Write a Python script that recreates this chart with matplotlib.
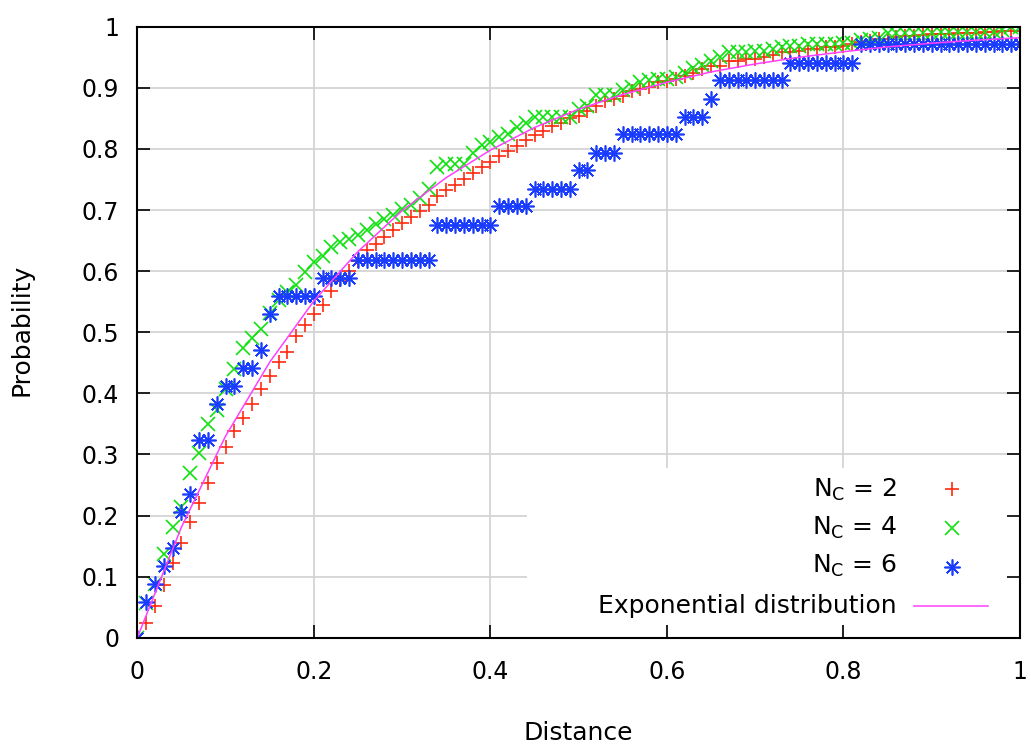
# CDF of distance for several N_C values vs exponential distribution (gnuplot style)
import numpy as np
import matplotlib.pyplot as plt
from matplotlib.patches import Rectangle

# x positions of the empirical CDFs (step 0.01)
distance = np.round(np.arange(101) * 0.01, 2)

# N_C = 2
prob_nc2 = [
    0.000, 0.024, 0.052, 0.086, 0.122, 0.155, 0.190, 0.220, 0.254, 0.286,
    0.312, 0.339, 0.360, 0.383, 0.407, 0.429, 0.451, 0.468, 0.493, 0.512,
    0.529, 0.545, 0.567, 0.586, 0.600, 0.616, 0.634, 0.644, 0.656, 0.667,
    0.679, 0.688, 0.699, 0.709, 0.723, 0.733, 0.741, 0.751, 0.760, 0.771,
    0.779, 0.789, 0.796, 0.805, 0.815, 0.823, 0.830, 0.838, 0.843, 0.851,
    0.854, 0.862, 0.870, 0.879, 0.881, 0.887, 0.895, 0.898, 0.901, 0.909,
    0.911, 0.914, 0.920, 0.924, 0.931, 0.936, 0.936, 0.944, 0.944, 0.947,
    0.947, 0.950, 0.953, 0.958, 0.958, 0.961, 0.963, 0.963, 0.966, 0.966,
    0.969, 0.972, 0.975, 0.977, 0.980, 0.980, 0.983, 0.985, 0.985, 0.986,
    0.988, 0.988, 0.988, 0.990, 0.990, 0.990, 0.991, 0.991, 0.993, 0.993,
    0.993,
]

# N_C = 4
prob_nc4 = [
    0.000, 0.057, 0.088, 0.137, 0.181, 0.214, 0.270, 0.302, 0.349, 0.372,
    0.407, 0.439, 0.474, 0.490, 0.506, 0.532, 0.553, 0.565, 0.577, 0.598,
    0.615, 0.624, 0.640, 0.648, 0.652, 0.659, 0.667, 0.677, 0.686, 0.692,
    0.702, 0.708, 0.720, 0.735, 0.770, 0.776, 0.776, 0.776, 0.793, 0.806,
    0.812, 0.820, 0.825, 0.836, 0.842, 0.853, 0.853, 0.853, 0.853, 0.853,
    0.866, 0.871, 0.888, 0.888, 0.888, 0.896, 0.902, 0.910, 0.913, 0.915,
    0.915, 0.918, 0.924, 0.932, 0.938, 0.944, 0.950, 0.958, 0.958, 0.958,
    0.961, 0.961, 0.963, 0.966, 0.969, 0.969, 0.972, 0.972, 0.972, 0.972,
    0.974, 0.974, 0.978, 0.980, 0.982, 0.990, 0.990, 0.990, 0.990, 0.990,
    0.990, 0.991, 0.991, 0.991, 0.991, 0.992, 0.992, 0.992, 0.995, 1.000,
    1.000,
]

# N_C = 6 (step-like, 34 samples)
prob_nc6 = [
    0.000, 0.059, 0.088, 0.118, 0.147, 0.206, 0.235, 0.324, 0.324, 0.382,
    0.412, 0.412, 0.441, 0.441, 0.471, 0.529, 0.559, 0.559, 0.559, 0.559,
    0.559, 0.588, 0.588, 0.588, 0.588, 0.618, 0.618, 0.618, 0.618, 0.618,
    0.618, 0.618, 0.618, 0.618, 0.676, 0.676, 0.676, 0.676, 0.676, 0.676,
    0.676, 0.706, 0.706, 0.706, 0.706, 0.735, 0.735, 0.735, 0.735, 0.735,
    0.765, 0.765, 0.794, 0.794, 0.794, 0.824, 0.824, 0.824, 0.824, 0.824,
    0.824, 0.824, 0.853, 0.853, 0.853, 0.882, 0.912, 0.912, 0.912, 0.912,
    0.912, 0.912, 0.912, 0.912, 0.941, 0.941, 0.941, 0.941, 0.941, 0.941,
    0.941, 0.941, 0.971, 0.971, 0.971, 0.971, 0.971, 0.971, 0.971, 0.971,
    0.971, 0.971, 0.971, 0.971, 0.971, 0.971, 0.971, 0.971, 0.971, 0.971,
    0.971,
]

# exponential distribution curve (read at step 0.05)
exp_x = [0.00, 0.05, 0.10, 0.15, 0.20, 0.25, 0.30, 0.35, 0.40, 0.45, 0.50,
         0.55, 0.60, 0.65, 0.70, 0.75, 0.80, 0.85, 0.90, 0.95, 1.00]
exp_y = [0.000, 0.181, 0.330, 0.451, 0.551, 0.632, 0.699, 0.753, 0.798, 0.835, 0.865,
         0.889, 0.909, 0.926, 0.939, 0.950, 0.959, 0.967, 0.973, 0.978, 0.982]

legend_labels = [r"N$_\mathrm{C}$ = 2", r"N$_\mathrm{C}$ = 4", r"N$_\mathrm{C}$ = 6",
                 "Exponential distribution"]

x_ticks = [0, 0.2, 0.4, 0.6, 0.8, 1]
y_ticks = [0, 0.1, 0.2, 0.3, 0.4, 0.5, 0.6, 0.7, 0.8, 0.9, 1]

RED, GREEN, BLUE, MAGENTA = "#ff2a10", "#11e011", "#1a3cff", "#ff40ff"
ASTER = (8, 2, 0)
FS_TICK = 17
FS = 18

# marker looks (shared by the data and the key)
st_nc2 = dict(marker="+", ms=10.5, mew=1.2, color=RED)
st_nc4 = dict(marker="x", ms=9.5, mew=1.2, color=GREEN)
st_nc6 = dict(marker=ASTER, ms=11.5, mew=1.2, color=BLUE)

plt.rcParams["font.family"] = ["DejaVu Sans"]
fig = plt.figure(figsize=(10.31, 7.47), dpi=100)
ax = fig.add_axes([137.3 / 1031, 1 - 637.7 / 747, (1020 - 137.3) / 1031, (637.7 - 26.7) / 747])
ax.set_xlim(0, 1)
ax.set_ylim(0, 1)

# grid (drawn by hand so that the opaque key box can cover it)
for xv in x_ticks[1:-1]:
    ax.axvline(xv, color="#d4d4d4", lw=1.3, zorder=0.5)
for yv in y_ticks[1:-1]:
    ax.axhline(yv, color="#d4d4d4", lw=1.3, zorder=0.5)

# opaque key background
ax.add_patch(Rectangle((0.4415, 0.02), 0.56, 0.258, facecolor="white",
                       edgecolor="none", zorder=1, transform=ax.transAxes))

ax.plot(distance, prob_nc2, ls="none", zorder=2, **st_nc2)
ax.plot(distance, prob_nc4, ls="none", zorder=2.1, **st_nc4)
ax.plot(distance, prob_nc6, ls="none", zorder=2.2, **st_nc6)
ax.plot(exp_x, exp_y, color=MAGENTA, lw=1.1, zorder=2.3)

# key: right-aligned text, sample on the right
text_x, mark_x = 0.8607, 0.923
base_y = [0.2311, 0.1684, 0.1056, 0.041]
mark_y = [0.2433, 0.1793, 0.1164, 0.0525]
for lab, by in zip(legend_labels, base_y):
    ax.text(text_x, by, lab, ha="right", va="baseline", fontsize=FS,
            transform=ax.transAxes, zorder=3)
for st, my in zip([st_nc2, st_nc4, st_nc6], mark_y):
    ax.plot([mark_x], [my], ls="none", transform=ax.transAxes, zorder=3, **st)
ax.plot([0.880, 0.964], [mark_y[3], mark_y[3]], color=MAGENTA, lw=1.1,
        transform=ax.transAxes, zorder=3)

# axes / ticks, gnuplot look
for sp in ax.spines.values():
    sp.set_linewidth(1.5)
    sp.set_zorder(4)
ax.set_xticks(x_ticks)
ax.set_yticks(y_ticks)
ax.set_xticklabels([f"{v:g}" for v in x_ticks])
ax.set_yticklabels([f"{v:g}" for v in y_ticks])
ax.tick_params(direction="in", length=9.5, width=1.2, top=True, right=True,
               labelsize=FS_TICK, color="black")
ax.tick_params(axis="x", pad=16)
ax.tick_params(axis="y", pad=13)
ax.set_axisbelow(False)

fig.text(578.6 / 1031, 1 - 733 / 747, "Distance", ha="center", va="center", fontsize=FS)
fig.text(22 / 1031, 1 - 330 / 747, "Probability", ha="center", va="center",
         rotation=90, fontsize=FS)

fig.savefig("out.png", dpi=100)
